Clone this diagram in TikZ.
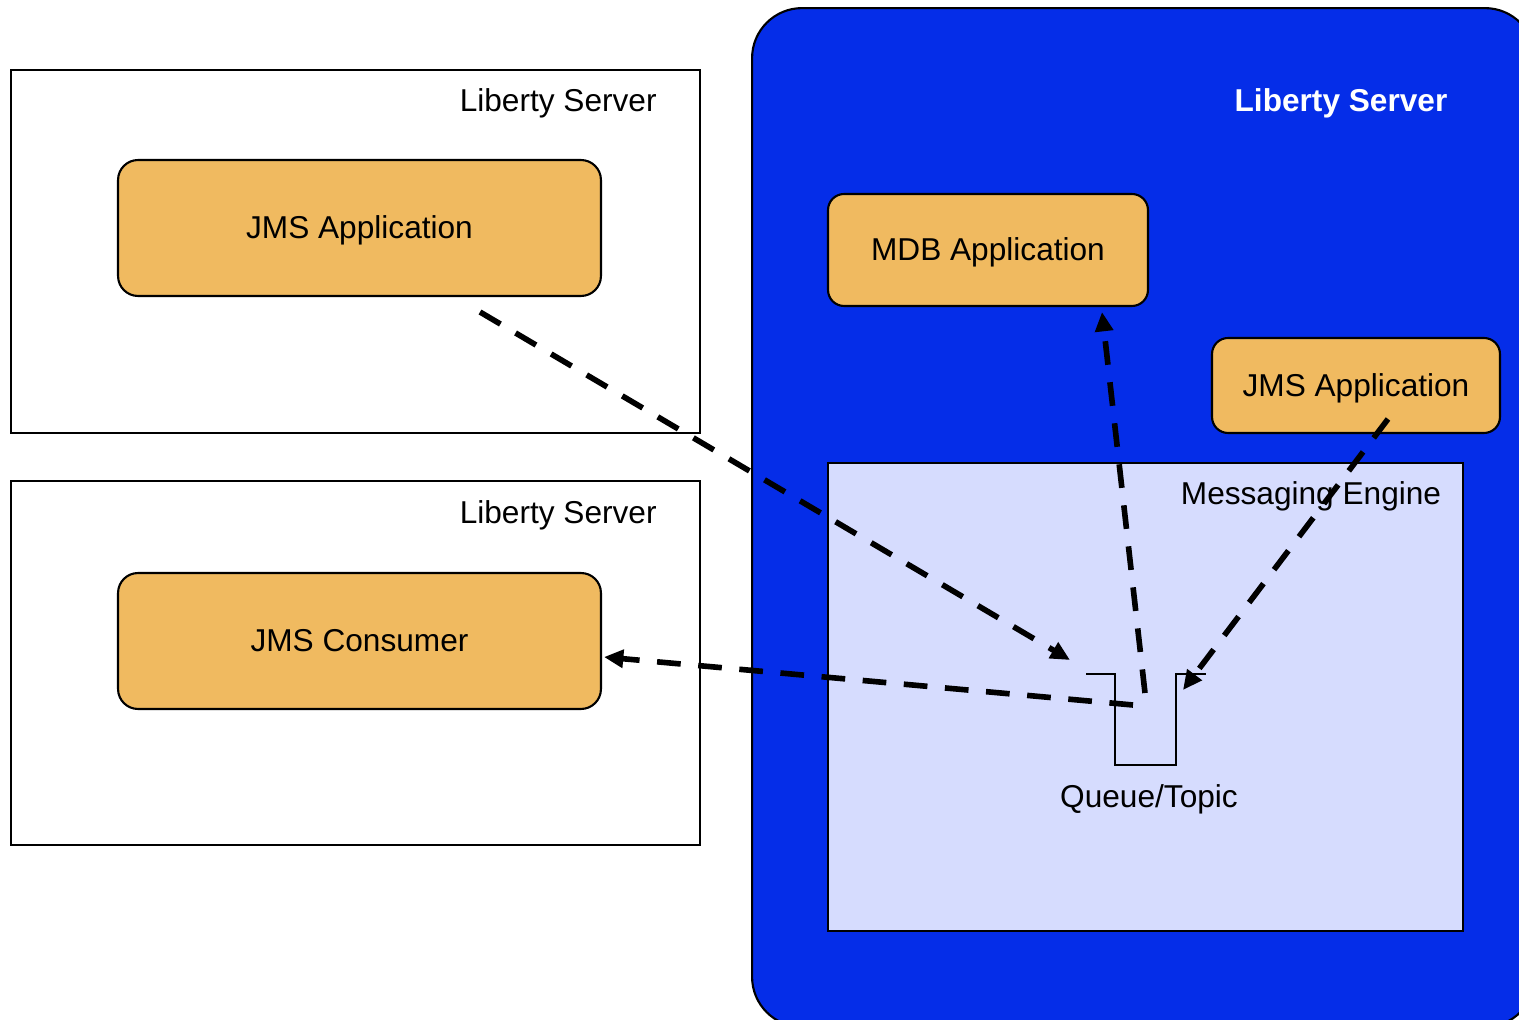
\documentclass[tikz,border=0pt]{standalone}
\usepackage{fontspec}
\setmainfont{Liberation Sans}
\usetikzlibrary{arrows.meta}
\definecolor{appfill}{RGB}{240,186,96}
\definecolor{srvblue}{RGB}{5,45,232}
\definecolor{mefill}{RGB}{214,220,254}
\tikzset{
  srvbox/.style={draw=black, line width=1.2pt, fill=white, inner sep=0pt},
  appbox/.style={draw=black, line width=1.2pt, fill=appfill, rounded corners=0.4cm, inner sep=0pt},
  lbl/.style={inner sep=0pt, text height=12pt, text depth=0pt, font=\fontsize{18}{21}\selectfont},
  flow/.style={line width=3.2pt, dash pattern=on 13.5pt off 10pt, -{Triangle[length=11pt,width=10pt]}},
  qline/.style={line width=1.3pt}
}
\begin{document}
\begin{tikzpicture}[x=0.02cm,y=-0.02cm]
\useasboundingbox (0,0) rectangle (1519,1020);
% left servers
\node[srvbox, minimum width=13.78cm, minimum height=7.26cm] (srv1) at (355.5,251.5) {};
\node[lbl, anchor=east] (srv1l) at (657,101) {Liberty Server};
\node[appbox, minimum width=9.66cm, minimum height=2.72cm, lbl] (jmsA) at (359.5,228) {JMS Application};
\node[srvbox, minimum width=13.78cm, minimum height=7.28cm] (srv2) at (355.5,663) {};
\node[lbl, anchor=east] (srv2l) at (657,513) {Liberty Server};
\node[appbox, minimum width=9.66cm, minimum height=2.72cm, lbl] (jmsC) at (359.5,641) {JMS Consumer};
% right server
\node[draw=black, line width=1.2pt, fill=srvblue, rounded corners=1cm, minimum width=15.66cm, minimum height=20.38cm, inner sep=0pt] (srv3) at (1143.5,517.5) {};
\node[lbl, text=white, font=\fontsize{18}{21}\selectfont\bfseries] (srv3l) at (1341,101) {Liberty Server};
\node[appbox, rounded corners=0.32cm, minimum width=6.4cm, minimum height=2.24cm, lbl] (mdb) at (988,250) {MDB Application};
\node[appbox, rounded corners=0.32cm, minimum width=5.76cm, minimum height=1.9cm, lbl] (jmsB) at (1356,385.5) {JMS Application};
\node[draw=black, line width=1.2pt, fill=mefill, minimum width=12.7cm, minimum height=9.36cm, inner sep=0pt] (me) at (1145.5,697) {};
\node[lbl] (mel) at (1311,494) {Messaging Engine};
% queue
\coordinate (q1) at (1086,674);
\coordinate (q2) at (1115,674);
\coordinate (q3) at (1115,765);
\coordinate (q4) at (1176,765);
\coordinate (q5) at (1176,674);
\coordinate (q6) at (1206,674);
\draw[qline] (q1) -- (q2) -- (q3) -- (q4) -- (q5) -- (q6);
\node[lbl] (ql) at (1149,797) {Queue/Topic};
% flows
\coordinate (a1s) at (480,312);
\coordinate (a1e) at (1070,660);
\coordinate (a2s) at (1145,693);
\coordinate (a2e) at (1102,312);
\coordinate (a3s) at (1388,419);
\coordinate (a3e) at (1183,690);
\coordinate (a4s) at (1133,705);
\coordinate (a4e) at (604,657);
\draw[flow] (a1s) -- (a1e);
\draw[flow] (a2s) -- (a2e);
\draw[flow] (a3s) -- (a3e);
\draw[flow] (a4s) -- (a4e);
\end{tikzpicture}
\end{document}
